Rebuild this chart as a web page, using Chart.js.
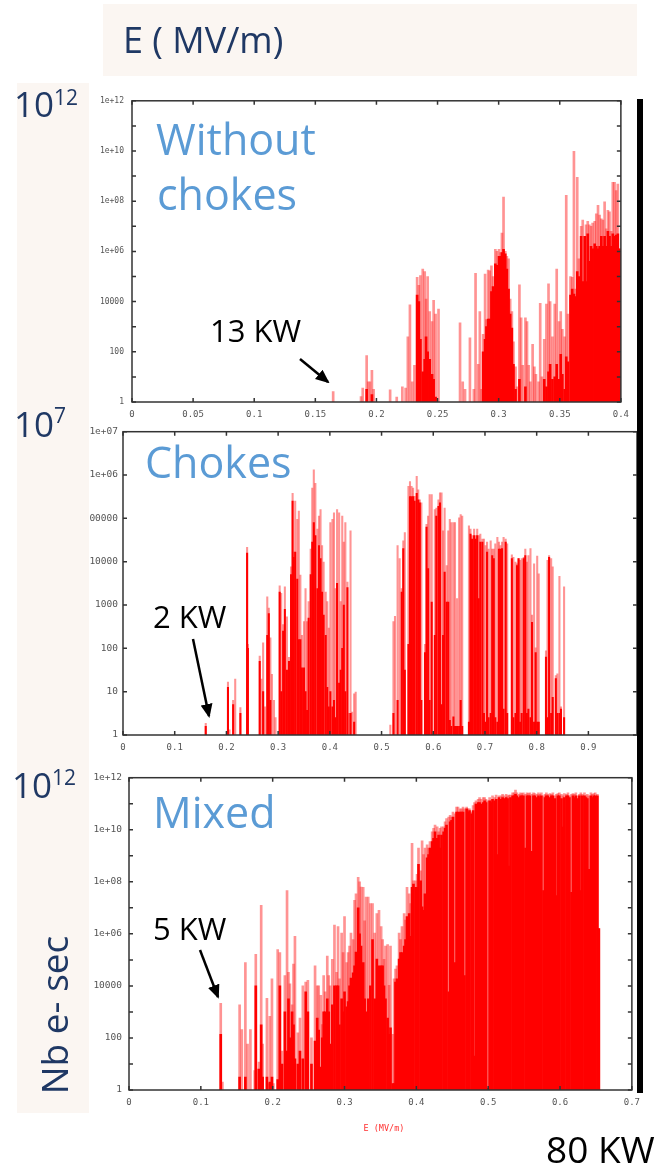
<!DOCTYPE html>
<html>
<head>
<meta charset="utf-8">
<script src="https://cdn.jsdelivr.net/npm/chart.js@4.4.1/dist/chart.umd.min.js"></script>
<style>
  body { margin: 0; background: #fff; }
  #page { position: relative; width: 664px; height: 1170px; overflow: hidden; font-family: "Open Sans", sans-serif; }
  .panel-bg { position: absolute; background: #FBF6F2; }
  canvas { position: absolute; }
  #overlay { position: absolute; left: 0; top: 0; pointer-events: none; }
</style>
</head>
<body>
<div id="page">
  <div class="panel-bg" style="left:103px;top:4px;width:534px;height:72px"></div>
  <div class="panel-bg" style="left:17px;top:83px;width:72px;height:1030px"></div>

  <canvas id="chart-nochokes" width="546" height="337" style="left:90px;top:88px"></canvas>
  <canvas id="chart-chokes" width="557" height="338" style="left:90px;top:421px"></canvas>
  <canvas id="chart-mixed" width="557" height="345" style="left:90px;top:765px"></canvas>

  <svg id="overlay" width="664" height="1170" font-family="Open Sans, sans-serif">
    <defs>
      <marker id="head" markerWidth="14" markerHeight="12" refX="12" refY="6" orient="auto" markerUnits="userSpaceOnUse">
        <path d="M0,0 L14,6 L0,12 z" fill="#000"/>
      </marker>
    </defs>
    <text x="123" y="53" font-size="36" fill="#1F3864">E ( MV/m)</text>

    <text x="14" y="117" font-size="35" fill="#1F3864">10<tspan font-size="21" dy="-12">12</tspan></text>
    <text x="14" y="437" font-size="35" fill="#1F3864">10<tspan font-size="21" dy="-14">7</tspan></text>
    <text x="12" y="798" font-size="35" fill="#1F3864">10<tspan font-size="21" dy="-13">12</tspan></text>
    <text transform="translate(68,1015) rotate(-90)" text-anchor="middle" font-size="37" fill="#1F3864">Nb e- sec</text>

    <text x="156" y="155" font-size="43" fill="#5B9BD5">Without</text>
    <text x="157" y="210" font-size="43" fill="#5B9BD5">chokes</text>
    <text x="145" y="478" font-size="43" fill="#5B9BD5">Chokes</text>
    <text x="153" y="828" font-size="43" fill="#5B9BD5">Mixed</text>

    <text x="210" y="342" font-size="31" fill="#000">13 KW</text>
    <line x1="300" y1="359" x2="328" y2="382" stroke="#000" stroke-width="2.5" marker-end="url(#head)"/>
    <text x="153" y="628" font-size="31" fill="#000">2 KW</text>
    <line x1="193" y1="639" x2="209" y2="716" stroke="#000" stroke-width="2.5" marker-end="url(#head)"/>
    <text x="153" y="940" font-size="31" fill="#000">5 KW</text>
    <line x1="200" y1="950" x2="218" y2="997" stroke="#000" stroke-width="2.5" marker-end="url(#head)"/>

    <text x="384" y="1131" text-anchor="middle" font-size="8.5" font-family="DejaVu Sans Mono, monospace" fill="#FF3030">E (MV/m)</text>

    <rect x="637" y="99" width="6" height="994" fill="#000"/>
    <text x="546" y="1163" font-size="37" fill="#000">80 KW</text>
  </svg>
</div>

<script>
/* ── Data: E (MV/m), log10 of tallest bin (peak) and of filled body ── */

const noChokesE = [0.1646, 0.1874, 0.1888, 0.1920, 0.1933, 0.1947, 0.1963, 0.1977, 0.2112, 0.2166,
  0.2212, 0.2239, 0.2257, 0.2274, 0.2293, 0.2311, 0.2333, 0.2347, 0.2360, 0.2379, 0.2395, 0.2406,
  0.2419, 0.2436, 0.2455, 0.2468, 0.2484, 0.2508,
  0.2684, 0.2706, 0.2725, 0.2765, 0.2797, 0.2811, 0.2833, 0.2846, 0.2860, 0.2873, 0.2889, 0.2900,
  0.2914, 0.2927, 0.2941, 0.2954, 0.2973, 0.2986, 0.3003, 0.3016, 0.3027, 0.3040, 0.3054, 0.3067,
  0.3081, 0.3094, 0.3108, 0.3121, 0.3138, 0.3151, 0.3170, 0.3184, 0.3197, 0.3219, 0.3232, 0.3246,
  0.3259, 0.3278, 0.3292, 0.3305, 0.3327, 0.3340, 0.3354, 0.3373, 0.3391, 0.3408, 0.3421, 0.3440,
  0.3459, 0.3475, 0.3494, 0.3508, 0.3521, 0.3540, 0.3553, 0.3567, 0.3588, 0.3602, 0.3616, 0.3629,
  0.3643, 0.3656, 0.3675, 0.3688, 0.3705, 0.3715, 0.3729, 0.3742, 0.3756, 0.3769, 0.3786, 0.3799,
  0.3813, 0.3826, 0.3840, 0.3853, 0.3867, 0.3880, 0.3894, 0.3907, 0.3921, 0.3934, 0.3948, 0.3961,
  0.3975, 0.3988];
const noChokesPeak = [0.42, 0.22, 0.55, 1.85, 0.8, 0.8, 1.26, 0.5, 0.48, 0.2,
  0.6, 0.55, 2.6, 3.87, 0.8, 1.46, 4.97, 4.65, 5.04, 5.3, 5.2, 4.1,
  5.0, 3.6, 3.2, 4.05, 3.5, 3.7,
  3.15, 0.8, 0.5, 2.56, 0.5, 5.13, 1.5, 3.6, 0.5, 2.7, 5.1, 3.28,
  5.26, 5.23, 5.43, 5.0, 6.08, 6.0, 6.08, 5.95, 6.73, 8.16, 6.0, 5.8,
  5.7, 4.1, 3.6, 2.4, 1.4, 0.6, 4.67, 3.35, 1.46, 3.35, 3.2, 1.46,
  0.8, 2.3, 1.4, 1.1, 0.8, 3.93, 1.0, 2.5, 3.9, 4.71, 4.0, 2.6,
  3.9, 5.3, 3.2, 3.6, 2.9, 2.6, 8.23, 3.5, 5.0, 4.97, 9.99, 4.5,
  8.95, 5.7, 7.0, 7.25, 6.6, 7.06, 7.2, 7.06, 7.0, 7.13, 7.2, 7.5,
  7.84, 7.45, 7.3, 7.25, 7.97, 6.9, 7.64, 7.58, 6.8, 8.75, 8.75, 8.42,
  8.68, 6.1];
const noChokesBody = [0, 0, 0, 0.5, 0, 0, 0.3, 0, 0, 0,
  0, 0, 0, 0, 0, 0, 4.26, 4.0, 2.5, 1.2, 1.7, 2.6,
  2.0, 1.7, 1.1, 0.9, 0.2, 0,
  0, 0, 0, 0, 0, 0, 0, 0, 0, 2.0, 2.5, 3.0,
  3.3, 3.3, 4.4, 4.6, 5.5, 5.45, 5.8, 5.8, 5.95, 6.08, 5.9, 5.3,
  4.5, 3.5, 2.95, 1.5, 0.5, 0, 0.9, 0, 0, 0.6, 0, 0,
  0, 0, 0, 0, 0, 0, 0, 0.9, 0.6, 1.2, 1.5, 0.9,
  1.0, 1.5, 0.9, 1.9, 1.1, 0.5, 1.8, 1.6, 4.26, 4.5, 4.3, 4.2,
  5.2, 5.0, 6.6, 4.8, 6.6, 4.8, 6.7, 5.6, 6.2, 6.1, 6.3, 6.2,
  6.1, 6.2, 6.6, 6.2, 6.6, 6.2, 6.8, 6.6, 6.2, 6.7, 6.6, 6.65,
  6.7, 6.1];

const chokesE = [0.160, 0.203, 0.206, 0.213, 0.217, 0.227, 0.240, 0.2415, 0.2644, 0.2676,
  0.271, 0.2745, 0.279, 0.282, 0.285, 0.288, 0.292, 0.295, 0.303, 0.306,
  0.3097, 0.313, 0.317, 0.321, 0.325, 0.328, 0.330, 0.333, 0.337, 0.340,
  0.343, 0.346, 0.350, 0.353, 0.356, 0.359, 0.363, 0.366, 0.369, 0.372,
  0.376, 0.379, 0.382, 0.385, 0.388, 0.392, 0.395, 0.398, 0.401, 0.405,
  0.408, 0.411, 0.414, 0.418, 0.421, 0.424, 0.427, 0.430, 0.434, 0.437,
  0.440, 0.443, 0.447, 0.450,
  0.517, 0.523, 0.526, 0.531, 0.535, 0.539, 0.542, 0.545, 0.552, 0.555,
  0.558, 0.561, 0.564, 0.568, 0.571, 0.574, 0.577, 0.584, 0.587, 0.590,
  0.593, 0.597, 0.603, 0.606, 0.610, 0.613, 0.616, 0.619, 0.622, 0.626,
  0.629, 0.632, 0.635, 0.639, 0.642, 0.646, 0.650, 0.653, 0.656, 0.669,
  0.672, 0.675, 0.679, 0.682, 0.685, 0.688, 0.691, 0.695, 0.698, 0.701,
  0.704, 0.707, 0.711, 0.714, 0.717, 0.720, 0.724, 0.727, 0.730, 0.733,
  0.736, 0.740, 0.743, 0.752, 0.755, 0.759, 0.762, 0.765, 0.768, 0.771,
  0.775, 0.778, 0.781, 0.784, 0.788, 0.791, 0.795, 0.798, 0.801, 0.804,
  0.818, 0.821, 0.824, 0.828, 0.831, 0.837, 0.840, 0.844, 0.847, 0.853];
const chokesPeak = [0.27, 1.22, 0.12, 0.8, 1.29, 0.63, 4.33, 2.09, 1.82, 1.29,
  2.13, 0.65, 3.19, 2.93, 2.24, 1.4, 0.8, 0.4, 3.44, 3.27,
  2.55, 3.42, 2.73, 1.79, 3.88, 5.58, 4.22, 5.4, 4.98, 5.17,
  3.69, 2.3, 2.62, 3.38, 2.62, 3.08, 4.29, 5.7, 6.12, 5.81,
  4.75, 5.05, 5.2, 4.37, 3.99, 3.3, 3.08, 2.47, 4.9, 4.98,
  5.13, 3.38, 5.2, 5.13, 3.08, 5.05, 4.45, 4.9, 3.53, 0.5,
  4.71, 0.53, 0.95, 0.99,
  0.23, 2.62, 2.74, 4.37, 4.07, 3.38, 4.48, 4.67, 5.74, 5.85,
  5.74, 5.7, 5.51, 5.97, 5.66, 5.43, 5.36, 2.09, 4.86, 5.05,
  5.55, 5.55, 5.2, 5.24, 5.43, 5.59, 5.59, 4.71, 5.24, 3.91,
  4.71, 4.98, 4.9, 4.9, 4.9, 3.15, 5.01, 5.09, 5.05, 4.83,
  4.75, 4.6, 4.75, 4.6, 4.75, 4.6, 4.64, 4.52, 4.52, 4.37,
  4.45, 4.29, 4.48, 4.29, 4.29, 4.41, 4.56, 4.45, 4.37, 4.45,
  4.56, 4.52, 4.41, 4.16, 4.1, 3.99, 3.95, 4.07, 4.03, 4.07,
  4.1, 4.29, 3.99, 4.14, 4.3, 2.77, 3.95, 2.01, 4.13, 3.72,
  1.94, 4.03, 4.14, 4.07, 3.88, 1.37, 1.41, 3.66, 0.65, 3.42];
const chokesBody = [0.2, 1.1, 0, 0.7, 0, 0.5, 4.2, 2.0, 1.7, 0,
  1.0, 0, 2.3, 2.8, 0.8, 0, 0, 0, 3.3, 1.0,
  2.4, 2.9, 1.5, 1.7, 3.7, 5.4, 4.1, 4.22, 3.6, 2.2,
  2.2, 1.55, 1.55, 1.0, 0.57, 2.7, 3.7, 4.45, 4.9, 4.6,
  3.38, 4.37, 4.07, 3.3, 2.77, 2.3, 1.1, 0.65, 1.0, 0.65,
  0.8, 0.4, 3.5, 1.2, 1.5, 2.0, 3.0, 1.0, 3.4, 0,
  0.5, 0, 0.3, 0,
  0, 0.5, 0, 0.8, 0, 3.3, 4.3, 1.5, 2.09, 5.5,
  5.5, 5.5, 5.4, 5.58, 5.43, 5.36, 0.8, 1.9, 4.8, 3.84,
  0.8, 3.07, 2.3, 5.05, 5.28, 5.36, 0.7, 2.3, 3.76, 3.07,
  3.07, 0.34, 0.2, 0.42, 0.2, 0.2, 0.2, 0.8, 0.2, 0.3,
  4.64, 4.52, 4.6, 4.52, 4.6, 3.15, 4.45, 4.45, 0.5, 0.3,
  4.22, 0.4, 0.5, 4.14, 4.07, 0.4, 0.3, 4.29, 4.29, 4.3,
  0.6, 4.45, 0.5, 4.07, 0.4, 0.5, 3.91, 4.07, 0.3, 0.5,
  4.07, 4.14, 0.5, 0.6, 0.4, 2.6, 0.3, 1.9, 0.3, 0.3,
  1.8, 0.4, 4.1, 0.5, 0.87, 1.3, 0.5, 0.5, 0.6, 0.4];

const mixedE = [0.1277, 0.1300, 0.154, 0.157, 0.162, 0.165, 0.169, 0.175, 0.1765, 0.178,
  0.181, 0.184, 0.186, 0.192, 0.194, 0.196, 0.199, 0.201, 0.207, 0.210,
  0.213, 0.217, 0.220, 0.222, 0.224, 0.227, 0.229, 0.231, 0.235, 0.238,
  0.242, 0.246, 0.249, 0.254, 0.259, 0.262, 0.264, 0.267, 0.269, 0.271,
  0.273, 0.276, 0.278, 0.280, 0.283, 0.286, 0.289, 0.291, 0.293, 0.296,
  0.298, 0.300, 0.303, 0.305, 0.307, 0.309, 0.312, 0.314, 0.316, 0.319,
  0.321, 0.323, 0.326, 0.328, 0.330, 0.333, 0.336, 0.339, 0.342, 0.345,
  0.348, 0.351, 0.353, 0.355, 0.357, 0.360, 0.362, 0.364, 0.367, 0.369,
  0.371, 0.373, 0.376, 0.378, 0.380, 0.383, 0.385, 0.387, 0.390, 0.392,
  0.394, 0.396, 0.399, 0.401, 0.403, 0.406, 0.408, 0.410, 0.412, 0.415,
  0.417, 0.419, 0.422, 0.424, 0.426, 0.429, 0.431, 0.433, 0.435, 0.438,
  0.440, 0.442, 0.445, 0.447, 0.449, 0.451, 0.454, 0.456, 0.458, 0.461,
  0.463, 0.465, 0.467, 0.470, 0.472, 0.474, 0.477, 0.479, 0.481, 0.483,
  0.486, 0.488, 0.490, 0.493, 0.495, 0.497, 0.499, 0.502, 0.504, 0.506,
  0.509, 0.511, 0.513, 0.515, 0.518, 0.520, 0.522, 0.525, 0.527, 0.529,
  0.531, 0.534, 0.536, 0.538, 0.540, 0.543, 0.545, 0.547, 0.549, 0.552,
  0.554, 0.556, 0.558, 0.561, 0.563, 0.565, 0.568, 0.570, 0.572, 0.574,
  0.577, 0.579, 0.581, 0.583, 0.586, 0.588, 0.590, 0.593, 0.595, 0.597,
  0.599, 0.602, 0.604, 0.606, 0.609, 0.611, 0.613, 0.616, 0.618, 0.620,
  0.622, 0.625, 0.627, 0.629, 0.631, 0.634, 0.636, 0.638, 0.640, 0.643,
  0.645, 0.647, 0.649, 0.652, 0.654];
const mixedPeak = [3.33, 0.3, 3.27, 2.32, 4.9, 1.76, 2.32, 0.75, 5.21, 0.8,
  1.07, 7.1, 1.76, 3.52, 0.25, 2.83, 4.27, 0.25, 5.4, 5.28,
  1.5, 4.4, 7.66, 4.52, 4.08, 3.27, 4.84, 5.9, 2.2, 2.76,
  4.0, 4.15, 4.21, 2.0, 4.77, 4.0, 4.0, 3.64, 2.51, 4.4,
  3.77, 5.15, 4.4, 4.0, 5.02, 6.34, 4.52, 6.28, 4.27, 6.03,
  5.28, 6.66, 4.9, 5.28, 5.53, 6.03, 5.78, 7.29, 7.54, 8.17,
  8.0, 7.8, 7.79, 6.5, 7.41, 7.41, 7.16, 7.16, 6.03, 6.78,
  6.9, 6.28, 5.78, 5.02, 5.53, 5.59, 4.02, 5.53, 2.14, 4.27,
  4.65, 4.77, 6.03, 5.78, 6.28, 6.78, 6.53, 7.79, 7.54, 7.16,
  9.48, 8.04, 8.04, 8.29, 9.3, 8.42, 9.57, 9.05, 9.3, 9.42,
  9.3, 9.55, 9.92, 10.05, 10.18, 10.11, 9.92, 10.05, 10.11, 10.11,
  10.3, 10.43, 10.49, 10.55, 10.49, 10.68, 10.61, 10.87, 10.87, 10.8,
  10.8, 10.87, 10.8, 10.87, 10.8, 10.8, 10.68, 10.93, 11.04, 11.11,
  11.17, 11.24, 11.17, 11.24, 11.24, 11.17, 11.11, 11.24, 11.11, 11.3,
  11.24, 11.33, 11.17, 11.3, 11.3, 11.36, 11.3, 11.36, 11.3, 11.33,
  11.33, 11.42, 11.42, 11.52, 11.42, 11.36, 11.42, 11.39, 11.42, 11.36,
  11.42, 11.39, 11.42, 11.36, 11.42, 11.39, 11.36, 11.42, 11.36, 11.42,
  11.3, 11.36, 11.42, 11.36, 11.39, 11.36, 11.42, 11.3, 11.36, 11.39,
  11.42, 11.36, 11.3, 11.39, 11.36, 11.42, 11.3, 11.36, 11.39, 11.36,
  11.42, 11.3, 11.36, 11.42, 11.36, 11.42, 11.3, 11.36, 11.3, 11.42,
  11.36, 11.39, 11.42, 11.36, 6.2];
const mixedBody = [2.14, 0, 0.5, 0, 0.5, 0, 0, 0, 4.0, 0,
  0.8, 2.5, 0.5, 0.5, 0, 0.3, 0.5, 0, 0.4, 4.0,
  1.0, 3.0, 1.5, 3.5, 2.0, 3.0, 2.5, 1.2, 1.0, 1.5,
  1.2, 3.77, 3.0, 1.0, 1.88, 2.76, 2.3, 0.88, 2.0, 3.0,
  3.0, 3.5, 3.0, 1.76, 3.27, 4.0, 4.0, 4.0, 2.5, 3.5,
  3.0, 3.77, 3.2, 3.4, 4.0, 4.3, 4.5, 4.77, 5.3, 7.0,
  6.0, 5.53, 4.9, 3.5, 3.0, 3.5, 4.0, 5.78, 3.5, 5.03,
  4.77, 4.77, 4.77, 4.0, 3.5, 2.76, 2.14, 2.39, 0.25, 0.25,
  4.15, 4.27, 5.03, 5.28, 5.28, 5.53, 5.78, 6.66, 6.78, 5.9,
  7.79, 7.91, 7.79, 7.79, 8.67, 8.04, 7.04, 6.9, 7.54, 8.92,
  9.05, 9.3, 9.55, 9.67, 9.92, 9.67, 9.8, 9.3, 9.8, 9.92,
  10.05, 10.18, 3.77, 10.3, 10.36, 10.49, 4.9, 10.68, 10.68, 10.68,
  10.68, 10.68, 4.4, 10.8, 10.68, 10.74, 10.61, 10.74, 1.3, 10.99,
  11.04, 11.04, 10.99, 11.04, 11.11, 11.04, 0.06, 11.11, 11.04, 11.17,
  11.11, 11.17, 9.05, 11.24, 11.17, 11.24, 11.2, 11.24, 11.2, 8.6,
  11.24, 11.3, 11.3, 11.36, 11.3, 11.24, 11.3, 11.3, 11.3, 9.3,
  11.3, 11.3, 11.3, 9.17, 11.3, 11.3, 11.24, 11.3, 11.24, 11.3,
  7.66, 11.24, 11.3, 11.3, 11.24, 11.3, 11.3, 11.2, 7.47, 11.3,
  11.3, 11.2, 10.1, 11.24, 11.3, 11.3, 11.24, 7.6, 11.3, 11.24,
  11.3, 11.2, 11.3, 7.66, 11.3, 11.3, 11.24, 11.2, 8.48, 11.3,
  11.24, 11.3, 11.3, 11.3, 6.2];

/* ── Axis ticks and labels ── */

const xTicksNoChokes = [0, 0.05, 0.1, 0.15, 0.2, 0.25, 0.3, 0.35, 0.4];
const xLabelsNoChokes = ['0', '0.05', '0.1', '0.15', '0.2', '0.25', '0.3', '0.35', '0.4'];
const xTicksChokes = [0, 0.1, 0.2, 0.3, 0.4, 0.5, 0.6, 0.7, 0.8, 0.9];
const xLabelsChokes = ['0', '0.1', '0.2', '0.3', '0.4', '0.5', '0.6', '0.7', '0.8', '0.9'];
const xTicksMixed = [0, 0.1, 0.2, 0.3, 0.4, 0.5, 0.6, 0.7];
const xLabelsMixed = ['0', '0.1', '0.2', '0.3', '0.4', '0.5', '0.6', '0.7'];

const yTicks12 = [1, 1e1, 1e2, 1e3, 1e4, 1e5, 1e6, 1e7, 1e8, 1e9, 1e10, 1e11, 1e12];
const yLabels12 = ['1', '', '100', '', '10000', '', '1e+06', '', '1e+08', '', '1e+10', '', '1e+12'];
const yTicks7 = [1, 1e1, 1e2, 1e3, 1e4, 1e5, 1e6, 1e7];
const yLabels7 = ['1', '10', '100', '1000', '10000', '100000', '1e+06', '1e+07'];

/* ── Gnuplot-style frame with inward ticks ── */

const frameTicks = {
  id: 'frameTicks',
  afterDatasetsDraw(chart) {
    const { ctx, chartArea: { left, right, top, bottom }, scales: { x, y } } = chart;
    ctx.save();
    ctx.strokeStyle = '#333';
    ctx.lineWidth = 1.5;
    ctx.beginPath();
    x.ticks.forEach(t => {
      const px = x.getPixelForValue(t.value);
      ctx.moveTo(px, bottom); ctx.lineTo(px, bottom - 4);
      ctx.moveTo(px, top); ctx.lineTo(px, top + 4);
    });
    y.ticks.forEach(t => {
      const py = y.getPixelForValue(t.value);
      ctx.moveTo(left, py); ctx.lineTo(left + 4, py);
      ctx.moveTo(right, py); ctx.lineTo(right - 4, py);
    });
    ctx.stroke();
    ctx.strokeRect(left, top, right - left, bottom - top);
    ctx.restore();
  }
};

function toPoints(es, logs) {
  return es.map((e, i) => ({ x: e, y: logs[i] > 0 ? Math.pow(10, logs[i]) : null }));
}

function createHistogram(id, cfg) {
  const ctx = document.getElementById(id);
  if (!ctx) return;

  new Chart(ctx, {
    type: 'bar',
    data: {
      datasets: [
        {
          label: 'body',
          data: toPoints(cfg.e, cfg.body),
          backgroundColor: '#FF0000',
          barThickness: cfg.thickness,
          grouped: false,
          order: 1
        },
        {
          label: 'peak',
          data: toPoints(cfg.e, cfg.peak),
          backgroundColor: 'rgba(255, 40, 40, 0.5)',
          barThickness: cfg.thickness,
          grouped: false,
          order: 2
        }
      ]
    },
    options: {
      responsive: false,
      animation: false,
      layout: { padding: { top: 7, right: 10, left: 0, bottom: 0 } },
      plugins: { legend: { display: false }, tooltip: { enabled: false } },
      scales: {
        x: {
          type: 'linear',
          min: 0,
          max: cfg.xMax,
          offset: false,
          grid: { display: false, drawTicks: false },
          border: { display: false },
          afterBuildTicks: s => { s.ticks = cfg.xTicks.map(v => ({ value: v })); },
          afterFit: s => { s.height = cfg.xHeight; },
          ticks: {
            autoSkip: false,
            maxRotation: 0,
            padding: 7,
            color: '#555',
            font: { family: 'DejaVu Sans Mono', size: 9 },
            callback: (v, i) => cfg.xLabels[i]
          }
        },
        y: {
          type: 'logarithmic',
          min: 1,
          max: cfg.yTicks[cfg.yTicks.length - 1],
          grid: { display: false, drawTicks: false },
          border: { display: false },
          afterBuildTicks: s => { s.ticks = cfg.yTicks.map(v => ({ value: v })); },
          afterFit: s => { s.width = cfg.yWidth; },
          ticks: {
            autoSkip: false,
            padding: cfg.yPad,
            color: '#555',
            font: { family: 'DejaVu Sans Mono', size: cfg.yFont },
            callback: (v, i) => cfg.yLabels[i]
          }
        }
      }
    },
    plugins: [frameTicks]
  });
}

createHistogram('chart-nochokes', {
  e: noChokesE, peak: noChokesPeak, body: noChokesBody, thickness: 2,
  xMax: 0.4, xTicks: xTicksNoChokes, xLabels: xLabelsNoChokes, xHeight: 23,
  yTicks: yTicks12, yLabels: yLabels12, yWidth: 42, yPad: 8, yFont: 8
});

createHistogram('chart-chokes', {
  e: chokesE, peak: chokesPeak, body: chokesBody, thickness: 1.4,
  xMax: 0.994, xTicks: xTicksChokes, xLabels: xLabelsChokes, xHeight: 24,
  yTicks: yTicks7, yLabels: yLabels7, yWidth: 33, yPad: 5, yFont: 9.5
});

createHistogram('chart-mixed', {
  e: mixedE, peak: mixedPeak, body: mixedBody, thickness: 2,
  xMax: 0.7, xTicks: xTicksMixed, xLabels: xLabelsMixed, xHeight: 20,
  yTicks: yTicks12, yLabels: yLabels12, yWidth: 39, yPad: 7, yFont: 9.5
});
</script>
</body>
</html>
